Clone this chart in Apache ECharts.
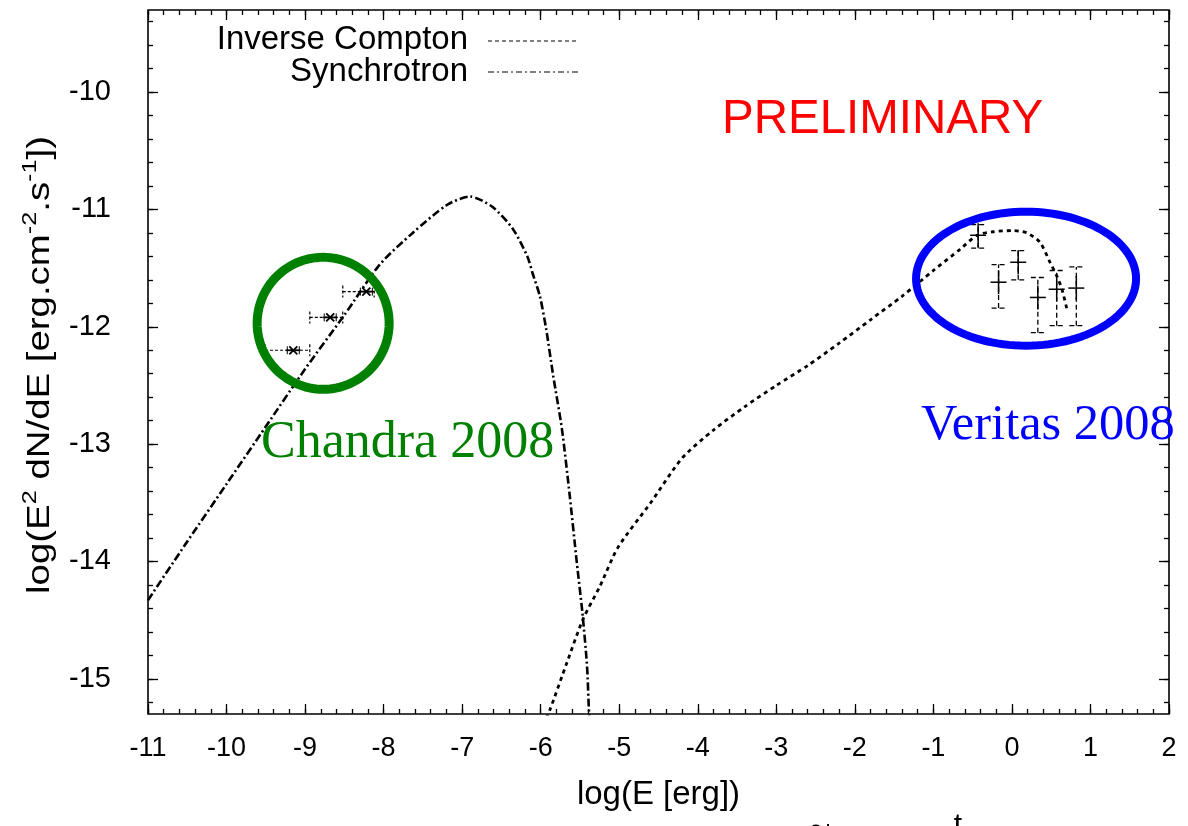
<!DOCTYPE html>
<html><head><meta charset="utf-8">
<script src="https://cdn.jsdelivr.net/npm/echarts@6/dist/echarts.min.js"></script>
<style>html,body{margin:0;padding:0;background:#fff}#c{width:1188px;height:826px}</style>
</head><body><div id="c"></div>
<script>
// ---- data ----
const synX = [-11, -10.5, -10, -9.5, -9, -8.5, -8.05, -7.63, -7.19, -6.9, -6.61, -6.35, -6.17, -6.10, -6.01, -5.93, -5.84, -5.73, -5.63, -5.54, -5.47, -5.41, -5.385, -5.36];
const synY = [-14.33, -13.83, -13.34, -12.85, -12.36, -11.90, -11.47, -11.20, -10.96, -10.89, -10.98, -11.17, -11.40, -11.55, -11.74, -12.02, -12.42, -12.87, -13.44, -14.01, -14.43, -14.89, -15.28, -15.5];
const icX = [-5.97, -5.88, -5.665, -5.46, -5.245, -5.016, -4.6, -4.2, -3.8, -3.4, -3.0, -2.6, -2.2, -1.8, -1.4, -1.0, -0.661, -0.445, -0.241, 0.014, 0.19, 0.357, 0.485, 0.574, 0.637, 0.70];
const icY = [-15.4, -15.26, -14.86, -14.49, -14.21, -13.88, -13.5, -13.12, -12.88, -12.68, -12.50, -12.33, -12.14, -11.94, -11.74, -11.52, -11.34, -11.22, -11.19, -11.18, -11.20, -11.28, -11.45, -11.57, -11.68, -11.85];
const chandraX = [-9.15, -8.68, -8.22];
const chandraY = [-12.20, -11.92, -11.70];
const chandraXLo = [-9.51, -8.94, -8.52];
const chandraXHi = [-8.94, -8.52, -8.12];
const veritasX = [-0.43, -0.17, 0.08, 0.33, 0.57, 0.82];
const veritasY = [-11.22, -11.62, -11.45, -11.75, -11.68, -11.67];
const veritasYLo = [-11.33, -11.84, -11.60, -12.05, -11.99, -11.99];
const veritasYHi = [-11.13, -11.47, -11.35, -11.58, -11.52, -11.49];
const xTickLabels = [-11, -10, -9, -8, -7, -6, -5, -4, -3, -2, -1, 0, 1, 2];
const yTickLabels = [-15, -14, -13, -12, -11, -10];
const seriesNames = ['Inverse Compton', 'Synchrotron'];

const X_MIN = -11, X_MAX = 2, Y_MIN = -15.3, Y_MAX = -9.3;
function minorList(a, b) { const r = []; for (let k = Math.ceil(a * 5); k <= Math.floor(b * 5); k++) r.push(Math.round(k * 20) / 100); return r; }
const xMinor = minorList(X_MIN, X_MAX);
const yMinor = minorList(Y_MIN, Y_MAX);

const FONT = 'Liberation Sans, Arial, Helvetica, sans-serif';
const gridRect = { left: 148, right: 19, top: 10, bottom: 112 };

function xAx(grid, pos, ticks, len, labels, extra) {
  return Object.assign({
    type: 'value', gridIndex: grid, position: pos, min: X_MIN, max: X_MAX,
    axisLine: { show: false, onZero: false }, splitLine: { show: false },
    axisTick: { show: true, inside: true, length: len, customValues: ticks, lineStyle: { color: '#000', width: 1.3 } },
    axisLabel: labels ? { show: true, customValues: xTickLabels, margin: 21, fontSize: 27, color: '#000', fontFamily: FONT } : { show: false }
  }, extra || {});
}
function yAx(grid, pos, ticks, len, labels, extra) {
  return Object.assign({
    type: 'value', gridIndex: grid, position: pos, min: Y_MIN, max: Y_MAX,
    axisLine: { show: false, onZero: false }, splitLine: { show: false },
    axisTick: { show: true, inside: true, length: len, customValues: ticks, lineStyle: { color: '#000', width: 1.3 } },
    axisLabel: labels ? { show: true, customValues: yTickLabels, margin: 37, fontSize: 29, color: '#000', fontFamily: FONT } : { show: false }
  }, extra || {});
}

const chart = echarts.init(document.getElementById('c'), null, { renderer: 'canvas' });

const option = {
  backgroundColor: '#fff',
  animation: false,
  grid: [
    Object.assign({ show: true, borderColor: '#000', borderWidth: 1.6, backgroundColor: 'transparent' }, gridRect),
    Object.assign({ show: false }, gridRect)
  ],
  xAxis: [
    xAx(0, 'bottom', xTickLabels, 10, true, {
      name: 'log(E [erg])', nameLocation: 'middle', nameGap: 64,
      nameTextStyle: { fontSize: 33, color: '#000', fontFamily: FONT }
    }),
    xAx(0, 'top', xTickLabels, 10, false),
    xAx(1, 'bottom', xMinor, 5, false),
    xAx(1, 'top', xMinor, 5, false)
  ],
  yAxis: [
    yAx(0, 'left', yTickLabels, 10, true),
    yAx(0, 'right', yTickLabels, 10, false),
    yAx(1, 'left', yMinor, 5, false),
    yAx(1, 'right', yMinor, 5, false)
  ],
  series: [
    {
      name: seriesNames[0], type: 'line', xAxisIndex: 0, yAxisIndex: 0, showSymbol: false, symbol: 'none',
      smooth: 0.25, clip: true,
      data: icX.map((x, i) => [x, icY[i]]),
      lineStyle: { color: '#000', width: 2.8, type: [4, 4] }
    },
    {
      name: seriesNames[1], type: 'line', xAxisIndex: 0, yAxisIndex: 0, showSymbol: false, symbol: 'none',
      smooth: 0.25, clip: true,
      data: synX.map((x, i) => [x, synY[i]]),
      lineStyle: { color: '#000', width: 2.6, type: [8, 3, 2, 3] }
    },
    {
      name: 'Chandra 2008', type: 'custom', xAxisIndex: 0, yAxisIndex: 0, clip: true,
      data: chandraX.map((x, i) => [x, chandraY[i], chandraXLo[i], chandraXHi[i]]),
      renderItem: function (params, api) {
        const c = api.coord([api.value(0), api.value(1)]);
        const lo = api.coord([api.value(2), api.value(1)]);
        const hi = api.coord([api.value(3), api.value(1)]);
        const dash = { stroke: '#000', lineWidth: 1.2, lineDash: [3, 2], fill: null };
        const solid = { stroke: '#000', lineWidth: 1.8, fill: null };
        return {
          type: 'group', children: [
            { type: 'line', shape: { x1: lo[0], y1: c[1], x2: hi[0], y2: c[1] }, style: dash },
            { type: 'line', shape: { x1: lo[0], y1: c[1] - 6, x2: lo[0], y2: c[1] + 6 }, style: dash },
            { type: 'line', shape: { x1: hi[0], y1: c[1] - 6, x2: hi[0], y2: c[1] + 6 }, style: dash },
            { type: 'line', shape: { x1: c[0] - 7, y1: c[1], x2: c[0] + 7, y2: c[1] }, style: solid },
            { type: 'line', shape: { x1: c[0] - 4, y1: c[1] - 4, x2: c[0] + 4, y2: c[1] + 4 }, style: solid },
            { type: 'line', shape: { x1: c[0] - 4, y1: c[1] + 4, x2: c[0] + 4, y2: c[1] - 4 }, style: solid },
            { type: 'line', shape: { x1: c[0] - 6, y1: c[1] - 4, x2: c[0] - 6, y2: c[1] + 4 }, style: { stroke: '#000', lineWidth: 1 } },
            { type: 'line', shape: { x1: c[0] + 6, y1: c[1] - 4, x2: c[0] + 6, y2: c[1] + 4 }, style: { stroke: '#000', lineWidth: 1 } }
          ]
        };
      }
    },
    {
      name: 'Veritas 2008', type: 'custom', xAxisIndex: 0, yAxisIndex: 0, clip: true,
      data: veritasX.map((x, i) => [x, veritasY[i], veritasYLo[i], veritasYHi[i]]),
      renderItem: function (params, api) {
        const c = api.coord([api.value(0), api.value(1)]);
        const lo = api.coord([api.value(0), api.value(2)]);
        const hi = api.coord([api.value(0), api.value(3)]);
        const dash = { stroke: '#000', lineWidth: 1.3, lineDash: [5, 3], fill: null };
        const solid = { stroke: '#000', lineWidth: 1.5, fill: null };
        return {
          type: 'group', children: [
            { type: 'line', shape: { x1: c[0], y1: lo[1], x2: c[0], y2: hi[1] }, style: dash },
            { type: 'line', shape: { x1: c[0] - 7, y1: lo[1], x2: c[0] + 7, y2: lo[1] }, style: dash },
            { type: 'line', shape: { x1: c[0] - 7, y1: hi[1], x2: c[0] + 7, y2: hi[1] }, style: dash },
            { type: 'line', shape: { x1: c[0] - 8, y1: c[1], x2: c[0] + 8, y2: c[1] }, style: solid },
            { type: 'line', shape: { x1: c[0], y1: c[1] - 12, x2: c[0], y2: c[1] + 12 }, style: solid }
          ]
        };
      }
    }
  ]
};
chart.setOption(option);

// ---- annotations (ellipses given in data coordinates, radii in pixels) ----
const annotations = [
  { cx: -8.77, cy: -11.97, rx: 66, ry: 66, color: '#008000', width: 9 },
  { cx: 0.18, cy: -11.59, rx: 110, ry: 67, color: '#0000ff', width: 8 }
];
function ellipsePts(cx, cy, rx, ry) {
  const pts = [];
  for (let k = 0; k < 120; k++) { const t = k / 120 * Math.PI * 2; pts.push([cx + rx * Math.cos(t), cy + ry * Math.sin(t)]); }
  return pts;
}
const graphics = [];
annotations.forEach(a => {
  const p = chart.convertToPixel({ xAxisIndex: 0, yAxisIndex: 0 }, [a.cx, a.cy]);
  graphics.push({ type: 'polygon', z: 50, shape: { points: ellipsePts(p[0], p[1], a.rx, a.ry) }, style: { fill: null, stroke: a.color, lineWidth: a.width } });
});
// y-axis title (stretched along its length like the reference)
graphics.push({
  type: 'text', z: 60, x: 40, y: 365, rotation: Math.PI / 2, scaleX: 1.2, scaleY: 1,
  style: {
    text: 'log(E{sup|2} dN/dE [erg.cm{sup|-2}.s{sup|-1}])', font: '32px ' + FONT, fill: '#000',
    align: 'center', verticalAlign: 'middle', lineHeight: 40,
    rich: { sup: { fontSize: 21, fontFamily: FONT, fill: '#000', verticalAlign: 'top', lineHeight: 22 } }
  }
});
// legend and labels
graphics.push(
  { type: 'text', z: 60, x: 468, y: 40, style: { text: seriesNames[0], font: '33px ' + FONT, fill: '#000', textAlign: 'right', textVerticalAlign: 'middle' } },
  { type: 'text', z: 60, x: 468, y: 72, style: { text: seriesNames[1], font: '33px ' + FONT, fill: '#000', textAlign: 'right', textVerticalAlign: 'middle' } },
  { type: 'line', z: 60, shape: { x1: 488, y1: 41, x2: 578, y2: 41 }, style: { stroke: '#000', lineWidth: 1, lineDash: [4, 3] } },
  { type: 'line', z: 60, shape: { x1: 488, y1: 72, x2: 578, y2: 72 }, style: { stroke: '#000', lineWidth: 1, lineDash: [6, 3, 2, 3] } },
  { type: 'text', z: 60, x: 722, y: 120, style: { text: 'PRELIMINARY', font: '47.5px ' + FONT, fill: '#ff0000', textAlign: 'left', textVerticalAlign: 'middle' } },
  { type: 'text', z: 60, x: 261, y: 443, style: { text: 'Chandra 2008', font: '52px Liberation Serif, Times New Roman, serif', fill: '#008000', textAlign: 'left', textVerticalAlign: 'middle' } },
  { type: 'text', z: 60, x: 921, y: 426, style: { text: 'Veritas 2008', font: '50.5px Liberation Serif, Times New Roman, serif', fill: '#0000ff', textAlign: 'left', textVerticalAlign: 'middle' } },
  { type: 'text', z: 60, x: 822, y: 830, rotation: Math.PI / 2, style: { text: '2', font: '26px ' + FONT, fill: '#000', textAlign: 'center', textVerticalAlign: 'middle' } },
  { type: 'text', z: 60, x: 958, y: 811, style: { text: 't', font: '30px ' + FONT, fill: '#000', textAlign: 'center', textVerticalAlign: 'top' } }
);
chart.setOption({ graphic: graphics });
</script>
</body></html>
